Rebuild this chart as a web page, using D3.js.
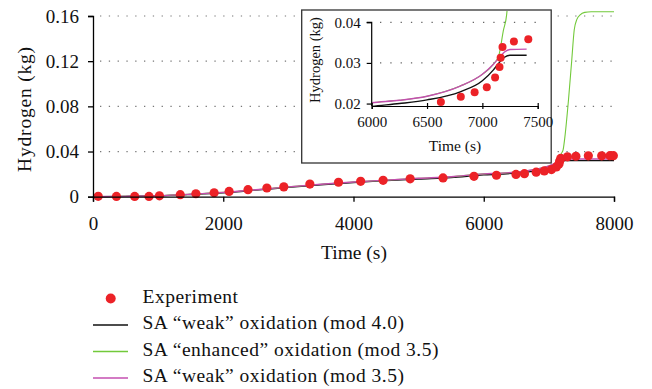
<!DOCTYPE html>
<html>
<head>
<meta charset="utf-8">
<script src="https://cdn.jsdelivr.net/npm/d3@7"></script>
<style>
  body { margin: 0; background: #fff; }
  svg { display: block; font-family: "Liberation Serif", "DejaVu Serif", serif; }
</style>
</head>
<body>
<svg id="chart"></svg>
<script>
const width = 652, height = 389;

// 實驗數據 [時間 s, 氫氣 kg]
const experiment = [
  [80, 0.0003], [360, 0.0002], [640, 0.0002], [860, 0.0002], [1020, 0.0008],
  [1340, 0.0018], [1580, 0.0026], [1860, 0.0035], [2090, 0.0047], [2380, 0.0062],
  [2670, 0.0077], [2930, 0.0087], [3330, 0.0112], [3770, 0.0128], [4110, 0.0136],
  [4455, 0.0145], [4870, 0.0158], [5375, 0.0166], [5850, 0.0180], [6195, 0.0190],
  [6495, 0.0197], [6625, 0.0204], [6805, 0.0217], [6930, 0.0228], [7040, 0.0240],
  [7115, 0.0264], [7155, 0.0290], [7165, 0.0313], [7182, 0.0339], [7285, 0.0353],
  [7415, 0.0358], [7606, 0.0362], [7811, 0.0362], [7938, 0.0363], [7990, 0.0363]
];

// SA "weak" oxidation (mod 4.0)
const weak40 = [
  [0, 0], [500, 0.0003], [1000, 0.0008], [1500, 0.0020], [2000, 0.0035],
  [2500, 0.0058], [3000, 0.0083], [3500, 0.0106], [4000, 0.0126], [4500, 0.0142],
  [5000, 0.0157], [5500, 0.0170], [6000, 0.0193], [6250, 0.0200], [6500, 0.0209],
  [6800, 0.0229], [7000, 0.0256], [7100, 0.0283], [7150, 0.0300], [7200, 0.0314],
  [7250, 0.0319], [7400, 0.0319], [8000, 0.0319]
];

// SA "enhanced" oxidation (mod 3.5)
const enhanced35 = [
  [0, 0], [500, 0.0003], [1000, 0.0009], [1500, 0.0022], [2000, 0.0038],
  [2500, 0.0061], [3000, 0.0087], [3500, 0.0110], [4000, 0.0130], [4500, 0.0147],
  [5000, 0.0163], [5500, 0.0177], [6000, 0.0202], [6250, 0.0208], [6500, 0.0218],
  [6800, 0.0243], [7000, 0.0272], [7100, 0.0297], [7150, 0.0320], [7190, 0.0380],
  [7220, 0.0420], [7250, 0.0550], [7300, 0.0850], [7350, 0.1200], [7390, 0.1480],
  [7430, 0.1570], [7480, 0.1610], [7550, 0.1632], [7650, 0.1638], [8000, 0.1638]
];

// SA "weak" oxidation (mod 3.5)
const weak35 = [
  [0, 0], [500, 0.0003], [1000, 0.0009], [1500, 0.0022], [2000, 0.0038],
  [2500, 0.0061], [3000, 0.0087], [3500, 0.0110], [4000, 0.0130], [4500, 0.0147],
  [5000, 0.0163], [5500, 0.0177], [6000, 0.0202], [6250, 0.0208], [6500, 0.0218],
  [6800, 0.0243], [7000, 0.0272], [7100, 0.0297], [7150, 0.0312], [7200, 0.0327],
  [7250, 0.0333], [7400, 0.0334], [8000, 0.0334]
];

const xTicks = [0, 2000, 4000, 6000, 8000];
const yTicks = [0, 0.04, 0.08, 0.12, 0.16];
const insetXTicks = [6000, 6500, 7000, 7500];
const insetYTicks = [0.02, 0.03, 0.04];

const legendItems = [
  { label: "Experiment", type: "dot", color: "#ec2227" },
  { label: "SA \u201cweak\u201d oxidation (mod 4.0)", type: "line", color: "#111" },
  { label: "SA \u201cenhanced\u201d oxidation (mod 3.5)", type: "line", color: "#72c93a" },
  { label: "SA \u201cweak\u201d oxidation (mod 3.5)", type: "line", color: "#c44fb0" }
];

const series = [
  { data: weak40, color: "#111", w: 1.4 },
  { data: enhanced35, color: "#72c93a", w: 1.1 },
  { data: weak35, color: "#c44fb0", w: 1.4 }
];

const svg = d3.select("#chart").attr("width", width).attr("height", height);
svg.append("rect").attr("width", width).attr("height", height).attr("fill", "#fff");

// 主圖比例尺
const x = d3.scaleLinear().domain([0, 8000]).range([93, 614]);
const y = d3.scaleLinear().domain([0, 0.16]).range([196.7, 16]);

// 虛線網格
svg.append("g")
  .selectAll("line")
  .data(yTicks.filter(d => d > 0))
  .enter().append("line")
  .attr("x1", 100).attr("x2", 612)
  .attr("y1", d => y(d)).attr("y2", d => y(d))
  .attr("stroke", "#777")
  .attr("stroke-width", 1.2)
  .attr("stroke-dasharray", "1.3,7.5");

const line = (xs, ys) => d3.line().x(d => xs(d[0])).y(d => ys(d[1])).curve(d3.curveMonotoneX);

// 主圖曲線
const mainLine = line(x, y);
svg.append("g").selectAll("path")
  .data(series)
  .enter().append("path")
  .attr("d", d => mainLine(d.data))
  .attr("fill", "none")
  .attr("stroke", d => d.color)
  .attr("stroke-width", d => d.w);

svg.append("g").selectAll("circle")
  .data(experiment)
  .enter().append("circle")
  .attr("cx", d => x(d[0]))
  .attr("cy", d => y(d[1]))
  .attr("r", 4.6)
  .attr("fill", "#ec2227");

// 主圖座標軸
const xAxis = svg.append("g")
  .attr("transform", `translate(0,${y(0)})`)
  .call(d3.axisBottom(x).tickValues(xTicks).tickSize(5).tickPadding(15).tickFormat(d3.format("d")));
const yAxis = svg.append("g")
  .attr("transform", `translate(${x(0)},0)`)
  .call(d3.axisLeft(y).tickValues(yTicks).tickSize(5).tickPadding(9)
    .tickFormat(d => d === 0 ? "0" : d.toFixed(2)));

[xAxis, yAxis].forEach(a => {
  a.select(".domain").attr("stroke", "#000").attr("stroke-width", 1.3);
  a.selectAll(".tick line").attr("stroke", "#000").attr("stroke-width", 1.3);
  a.selectAll("text").attr("font-size", 19).attr("fill", "#111")
    .attr("font-family", "Liberation Serif");
});

svg.append("text")
  .attr("x", 354).attr("y", 259)
  .attr("text-anchor", "middle")
  .attr("font-size", 19.5)
  .attr("fill", "#111")
  .text("Time (s)");

svg.append("text")
  .attr("transform", "translate(31,109) rotate(-90)")
  .attr("text-anchor", "middle")
  .attr("font-size", 19.5)
  .attr("letter-spacing", 0.8)
  .attr("fill", "#111")
  .text("Hydrogen (kg)");

// 插圖
const inset = svg.append("g");
inset.append("rect")
  .attr("x", 301.7).attr("y", 10)
  .attr("width", 249.5).attr("height", 153)
  .attr("fill", "#fff")
  .attr("stroke", "#333")
  .attr("stroke-width", 1.3);

const ix = d3.scaleLinear().domain([6000, 7500]).range([371.7, 537.7]);
const iy = d3.scaleLinear().domain([0.0194, 0.04]).range([106, 22.3]);

inset.append("g")
  .selectAll("line")
  .data(insetYTicks.filter(d => d > 0.02))
  .enter().append("line")
  .attr("x1", 380).attr("x2", 540)
  .attr("y1", d => iy(d)).attr("y2", d => iy(d))
  .attr("stroke", "#666")
  .attr("stroke-width", 1.2)
  .attr("stroke-dasharray", "1.3,9");

svg.append("defs").append("clipPath")
  .attr("id", "inset-clip")
  .append("rect")
  .attr("x", ix(6000)).attr("y", 11)
  .attr("width", 547 - ix(6000)).attr("height", iy(0.0194) - 11);

const insetLine = line(ix, iy);
inset.append("g")
  .attr("clip-path", "url(#inset-clip)")
  .selectAll("path")
  .data(series)
  .enter().append("path")
  .attr("d", d => insetLine(d.data.filter(p => p[0] >= 5500 && p[0] <= 7600)))
  .attr("fill", "none")
  .attr("stroke", d => d.color)
  .attr("stroke-width", d => d.w);

inset.append("g").selectAll("circle")
  .data(experiment.filter(d => d[0] >= 6000 && d[0] <= 7500 && d[1] >= 0.02))
  .enter().append("circle")
  .attr("cx", d => ix(d[0]))
  .attr("cy", d => iy(d[1]))
  .attr("r", 4)
  .attr("fill", "#ec2227");

const ixAxis = inset.append("g")
  .attr("transform", `translate(0,${iy(0.0194)})`)
  .call(d3.axisBottom(ix).tickValues(insetXTicks).tickSize(3).tickPadding(7).tickFormat(d3.format("d")));
const iyAxis = inset.append("g")
  .attr("transform", `translate(${ix(6000)},0)`)
  .call(d3.axisLeft(iy).tickValues(insetYTicks).tickSize(5).tickPadding(6).tickFormat(d => d.toFixed(2)));
iyAxis.select(".domain").attr("d", `M-5,${iy(0.04)}H0V${iy(0.0194)}`);

[ixAxis, iyAxis].forEach(a => {
  a.select(".domain").attr("stroke", "#000").attr("stroke-width", 1.2);
  a.selectAll(".tick line").attr("stroke", "#000").attr("stroke-width", 1.2);
  a.selectAll("text").attr("font-size", 15).attr("fill", "#111")
    .attr("font-family", "Liberation Serif");
});
ixAxis.selectAll(".tick line").attr("y1", -3);

inset.append("text")
  .attr("x", 455).attr("y", 151)
  .attr("text-anchor", "middle")
  .attr("font-size", 15.5)
  .attr("fill", "#111")
  .text("Time (s)");

inset.append("text")
  .attr("transform", "translate(320,60) rotate(-90)")
  .attr("text-anchor", "middle")
  .attr("font-size", 14.5)
  .attr("fill", "#111")
  .text("Hydrogen (kg)");

// 圖例
const legend = svg.append("g");
const rowY = d3.scaleLinear().domain([0, 3]).range([298.5, 378]);
const items = legend.selectAll("g")
  .data(legendItems)
  .enter().append("g")
  .attr("transform", (d, i) => `translate(0,${rowY(i)})`);

items.filter(d => d.type === "dot").append("circle")
  .attr("cx", 110.7).attr("cy", 0).attr("r", 5)
  .attr("fill", d => d.color);
items.filter(d => d.type === "line").append("line")
  .attr("x1", 93).attr("x2", 128)
  .attr("y1", 0).attr("y2", 0)
  .attr("stroke", d => d.color)
  .attr("stroke-width", 1.3);
items.append("text")
  .attr("x", 142.5).attr("y", 4.2)
  .attr("font-size", 19.5)
  .attr("letter-spacing", 0.5)
  .attr("fill", "#111")
  .text(d => d.label);
</script>
</body>
</html>
